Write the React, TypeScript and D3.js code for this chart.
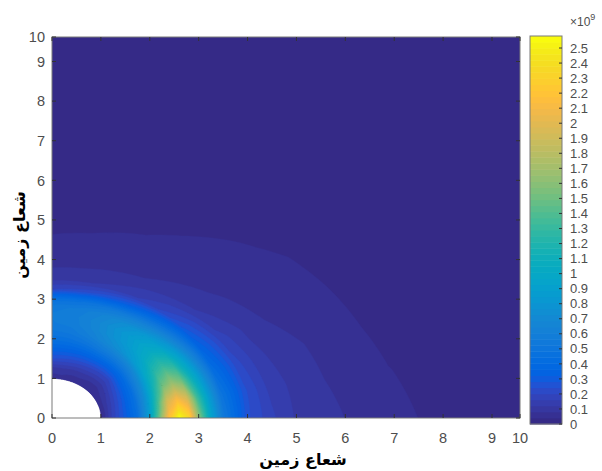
import React from "react";
import * as d3 from "d3";

// ---- data (values in units of 1e9), polar mesh ----
const RADII = [1, 1.25, 1.5, 1.75, 2, 2.2, 2.4, 2.6, 2.8, 3, 3.25, 3.5, 4, 4.5, 5, 6, 7, 8, 10, 14.2];
const ANGLES_DEG = [0, 10, 20, 30, 40, 50, 60, 70, 80, 90];

const theta0 = [0.02, 0.18, 0.3, 0.45, 0.9, 1.5, 2.2, 2.58, 2.35, 1.6, 0.95, 0.55, 0.25, 0.17, 0.115, 0.08, 0.05, 0.03, 0.02, 0.01];
const theta10 = [0.03, 0.17, 0.3, 0.47, 0.85, 1.35, 1.95, 2.15, 1.95, 1.35, 0.85, 0.5, 0.25, 0.15, 0.11, 0.065, 0.041, 0.03, 0.02, 0.01];
const theta20 = [0.04, 0.15, 0.28, 0.45, 0.78, 1.15, 1.5, 1.65, 1.5, 1.12, 0.75, 0.43, 0.22, 0.13, 0.1, 0.06, 0.033, 0.027, 0.018, 0.01];
const theta30 = [0.04, 0.12, 0.25, 0.42, 0.7, 1.0, 1.22, 1.3, 1.2, 0.95, 0.64, 0.36, 0.18, 0.115, 0.08, 0.05, 0.032, 0.025, 0.017, 0.01];
const theta40 = [0.04, 0.09, 0.2, 0.38, 0.62, 0.86, 0.98, 1.02, 0.95, 0.78, 0.52, 0.29, 0.13, 0.088, 0.068, 0.045, 0.03, 0.023, 0.016, 0.009];
const theta50 = [0.04, 0.09, 0.2, 0.36, 0.58, 0.76, 0.85, 0.88, 0.82, 0.66, 0.42, 0.21, 0.1, 0.072, 0.055, 0.037, 0.028, 0.022, 0.015, 0.009];
const theta60 = [0.05, 0.1, 0.21, 0.36, 0.55, 0.68, 0.75, 0.77, 0.72, 0.58, 0.33, 0.16, 0.083, 0.06, 0.044, 0.032, 0.025, 0.02, 0.014, 0.008];
const theta70 = [0.05, 0.1, 0.22, 0.35, 0.5, 0.6, 0.65, 0.66, 0.63, 0.52, 0.27, 0.13, 0.072, 0.052, 0.039, 0.03, 0.024, 0.019, 0.013, 0.008];
const theta80 = [0.06, 0.11, 0.23, 0.35, 0.47, 0.54, 0.58, 0.59, 0.57, 0.47, 0.22, 0.115, 0.063, 0.045, 0.035, 0.028, 0.023, 0.018, 0.012, 0.008];
const theta90 = [0.06, 0.1, 0.24, 0.35, 0.46, 0.52, 0.56, 0.57, 0.55, 0.46, 0.2, 0.11, 0.06, 0.043, 0.033, 0.027, 0.022, 0.018, 0.012, 0.008];
const FIELD_ROWS = [theta0, theta10, theta20, theta30, theta40, theta50, theta60, theta70, theta80, theta90];

const X_TICKS = [0, 1, 2, 3, 4, 5, 6, 7, 8, 9, 10];
const Y_TICKS = [0, 1, 2, 3, 4, 5, 6, 7, 8, 9, 10];
const CB_TICKS = [0, 0.1, 0.2, 0.3, 0.4, 0.5, 0.6, 0.7, 0.8, 0.9, 1, 1.1, 1.2, 1.3, 1.4, 1.5, 1.6, 1.7, 1.8, 1.9, 2, 2.1, 2.2, 2.3, 2.4, 2.5];
const AXIS_LABEL = "شعاع زمین";

// MATLAB parula (64)
const PARULA = [
  [0.2081, 0.1663, 0.5292], [0.2116, 0.1898, 0.5777], [0.2123, 0.2138, 0.627], [0.2081, 0.2386, 0.6771],
  [0.1959, 0.2645, 0.7279], [0.1707, 0.2919, 0.7792], [0.1253, 0.3242, 0.8303], [0.0591, 0.3598, 0.8683],
  [0.0117, 0.3875, 0.882], [0.006, 0.4086, 0.8828], [0.0165, 0.4266, 0.8786], [0.0329, 0.443, 0.872],
  [0.0498, 0.4586, 0.8641], [0.0629, 0.4737, 0.8554], [0.0723, 0.4887, 0.8467], [0.0779, 0.504, 0.8384],
  [0.0793, 0.52, 0.8312], [0.0749, 0.5375, 0.8263], [0.0641, 0.557, 0.824], [0.0488, 0.5772, 0.8228],
  [0.0343, 0.5966, 0.8199], [0.0265, 0.6137, 0.8135], [0.0239, 0.6287, 0.8038], [0.0231, 0.6418, 0.7913],
  [0.0228, 0.6535, 0.7768], [0.0267, 0.6642, 0.7607], [0.0384, 0.6743, 0.7436], [0.059, 0.6838, 0.7254],
  [0.0843, 0.6928, 0.7062], [0.1133, 0.7015, 0.6859], [0.1453, 0.7098, 0.6646], [0.1801, 0.7177, 0.6424],
  [0.2178, 0.725, 0.6193], [0.2586, 0.7317, 0.5954], [0.3022, 0.7376, 0.5712], [0.3482, 0.7424, 0.5473],
  [0.3953, 0.7459, 0.5244], [0.442, 0.7481, 0.5033], [0.4871, 0.7491, 0.484], [0.53, 0.7491, 0.4661],
  [0.5709, 0.7485, 0.4494], [0.6099, 0.7473, 0.4337], [0.6473, 0.7456, 0.4188], [0.6834, 0.7435, 0.4044],
  [0.7184, 0.7411, 0.3905], [0.7525, 0.7384, 0.3768], [0.7858, 0.7356, 0.3633], [0.8185, 0.7327, 0.3498],
  [0.8507, 0.7299, 0.336], [0.8824, 0.7274, 0.3217], [0.9139, 0.7258, 0.3063], [0.945, 0.7261, 0.2886],
  [0.9739, 0.7314, 0.2666], [0.9938, 0.7455, 0.2403], [0.999, 0.7653, 0.2164], [0.9955, 0.7861, 0.1967],
  [0.988, 0.8066, 0.1794], [0.9789, 0.8271, 0.1633], [0.9697, 0.8481, 0.1475], [0.9626, 0.8705, 0.1309],
  [0.9589, 0.8949, 0.1132], [0.9598, 0.9218, 0.0948], [0.9661, 0.9514, 0.0755], [0.9763, 0.9831, 0.0538],
].map(([r, g, b]) => `rgb(${Math.round(r * 255)},${Math.round(g * 255)},${Math.round(b * 255)})`);

const W = 602;
const H = 471;
const PLOT = { left: 52, right: 520, top: 37, bottom: 418 };
const CB = { left: 530, right: 562, top: 36, bottom: 424 };
const TICK_FONT = "'Liberation Sans', Arial, Helvetica, sans-serif";
const TICK_COLOR = "#4d4d4d";
const AXIS_COLOR = "#7a7a7a";

export default function App() {
  const xScale = d3.scaleLinear().domain([0, 9, 10]).range([PLOT.left, 492, PLOT.right]);
  const yScale = d3.scaleLinear().domain([0, 9, 10]).range([PLOT.bottom, 61.5, PLOT.top]);

  const nR = RADII.length;
  const nT = ANGLES_DEG.length;
  const values: number[] = [];
  FIELD_ROWS.forEach((row) => row.forEach((v) => values.push(v)));
  const cmax = d3.max(values) as number;
  const nLev = PARULA.length;
  const levels = d3.range(nLev).map((i) => (i * cmax) / nLev);
  const contours = d3.contours().size([nR, nT]).thresholds(levels)(values);

  const uToR = d3.scaleLinear().domain(RADII.map((_, i) => i + 0.5)).range(RADII).clamp(true);
  const vToT = d3.scaleLinear().domain(ANGLES_DEG.map((_, j) => j + 0.5)).range(ANGLES_DEG).clamp(true);
  const project = (u: number, v: number): [number, number] => {
    const r = uToR(u);
    const t = (vToT(v) * Math.PI) / 180;
    return [xScale(r * Math.cos(t)), yScale(r * Math.sin(t))];
  };
  const line = d3.line();
  const ringPath = (ring: number[][]) => {
    const pts: [number, number][] = [];
    const N = 8;
    for (let k = 0; k < ring.length - 1; k++) {
      const [u0, v0] = ring[k];
      const [u1, v1] = ring[k + 1];
      for (let s = 0; s < N; s++) {
        const f = s / N;
        pts.push(project(u0 + (u1 - u0) * f, v0 + (v1 - v0) * f));
      }
    }
    return (line(pts) || "") + "Z";
  };
  const contourPath = (c: any) =>
    c.coordinates.map((poly: number[][][]) => poly.map(ringPath).join("")).join("");

  const cbScale = d3.scaleLinear().domain([0, cmax]).range([CB.bottom, CB.top]);

  return (
    <svg width={W} height={H} style={{ position: "fixed", left: 0, top: 0, background: "#fff" }}>
      <defs>
        <clipPath id="plotclip">
          <rect x={PLOT.left} y={PLOT.top} width={PLOT.right - PLOT.left} height={PLOT.bottom - PLOT.top} />
        </clipPath>
      </defs>
      <g clipPath="url(#plotclip)">
        {contours.map((c, i) => (
          <path key={i} d={contourPath(c)} fill={PARULA[i]} fillRule="evenodd" stroke={PARULA[i]} strokeWidth={0.4} />
        ))}
      </g>
      {/* axes box */}
      <rect x={PLOT.left} y={PLOT.top} width={PLOT.right - PLOT.left} height={PLOT.bottom - PLOT.top}
        fill="none" stroke={AXIS_COLOR} strokeWidth={1} />
      {X_TICKS.map((t) => (
        <g key={"x" + t}>
          <line x1={xScale(t)} x2={xScale(t)} y1={PLOT.bottom} y2={PLOT.bottom - 4} stroke="#333" />
          <line x1={xScale(t)} x2={xScale(t)} y1={PLOT.top} y2={PLOT.top + 4} stroke="#333" />
          <text x={xScale(t)} y={PLOT.bottom + 25} textAnchor="middle" fontFamily={TICK_FONT} fontSize={14.5} fill={TICK_COLOR}>{t}</text>
        </g>
      ))}
      {Y_TICKS.map((t) => (
        <g key={"y" + t}>
          <line x1={PLOT.left} x2={PLOT.left + 4} y1={yScale(t)} y2={yScale(t)} stroke="#333" />
          <line x1={PLOT.right} x2={PLOT.right - 4} y1={yScale(t)} y2={yScale(t)} stroke="#333" />
          <text x={PLOT.left - 7} y={yScale(t)} dy="0.36em" textAnchor="end" fontFamily={TICK_FONT} fontSize={14.5} fill={TICK_COLOR}>{t}</text>
        </g>
      ))}
      {/* axis labels */}
      <text x={303} y={465} textAnchor="middle" fontFamily="'DejaVu Sans', sans-serif" fontWeight="bold" fontSize={16} fill="#000">{AXIS_LABEL}</text>
      <text transform="translate(25,235) rotate(-90)" textAnchor="middle" fontFamily="'DejaVu Sans', sans-serif" fontWeight="bold" fontSize={16} fill="#000">{AXIS_LABEL}</text>
      {/* colorbar */}
      {levels.map((lv, i) => (
        <rect key={"cb" + i} x={CB.left} width={CB.right - CB.left}
          y={cbScale(i + 1 < nLev ? levels[i + 1] : cmax)}
          height={cbScale(lv) - cbScale(i + 1 < nLev ? levels[i + 1] : cmax) + 0.5}
          fill={PARULA[i]} />
      ))}
      <rect x={CB.left} y={CB.top} width={CB.right - CB.left} height={CB.bottom - CB.top} fill="none" stroke={AXIS_COLOR} />
      {CB_TICKS.map((t) => (
        <g key={"cbt" + t}>
          <line x1={CB.right} x2={CB.right - 3} y1={cbScale(t)} y2={cbScale(t)} stroke="#333" />
          <text x={CB.right + 8} y={cbScale(t)} dy="0.36em" fontFamily={TICK_FONT} fontSize={13} fill={TICK_COLOR}>{String(+t.toFixed(1))}</text>
        </g>
      ))}
      <text x={CB.right + 8} y={26} fontFamily={TICK_FONT} fontSize={12} fill={TICK_COLOR}>
        ×10<tspan dy={-6} fontSize={9}>9</tspan>
      </text>
    </svg>
  );
}
